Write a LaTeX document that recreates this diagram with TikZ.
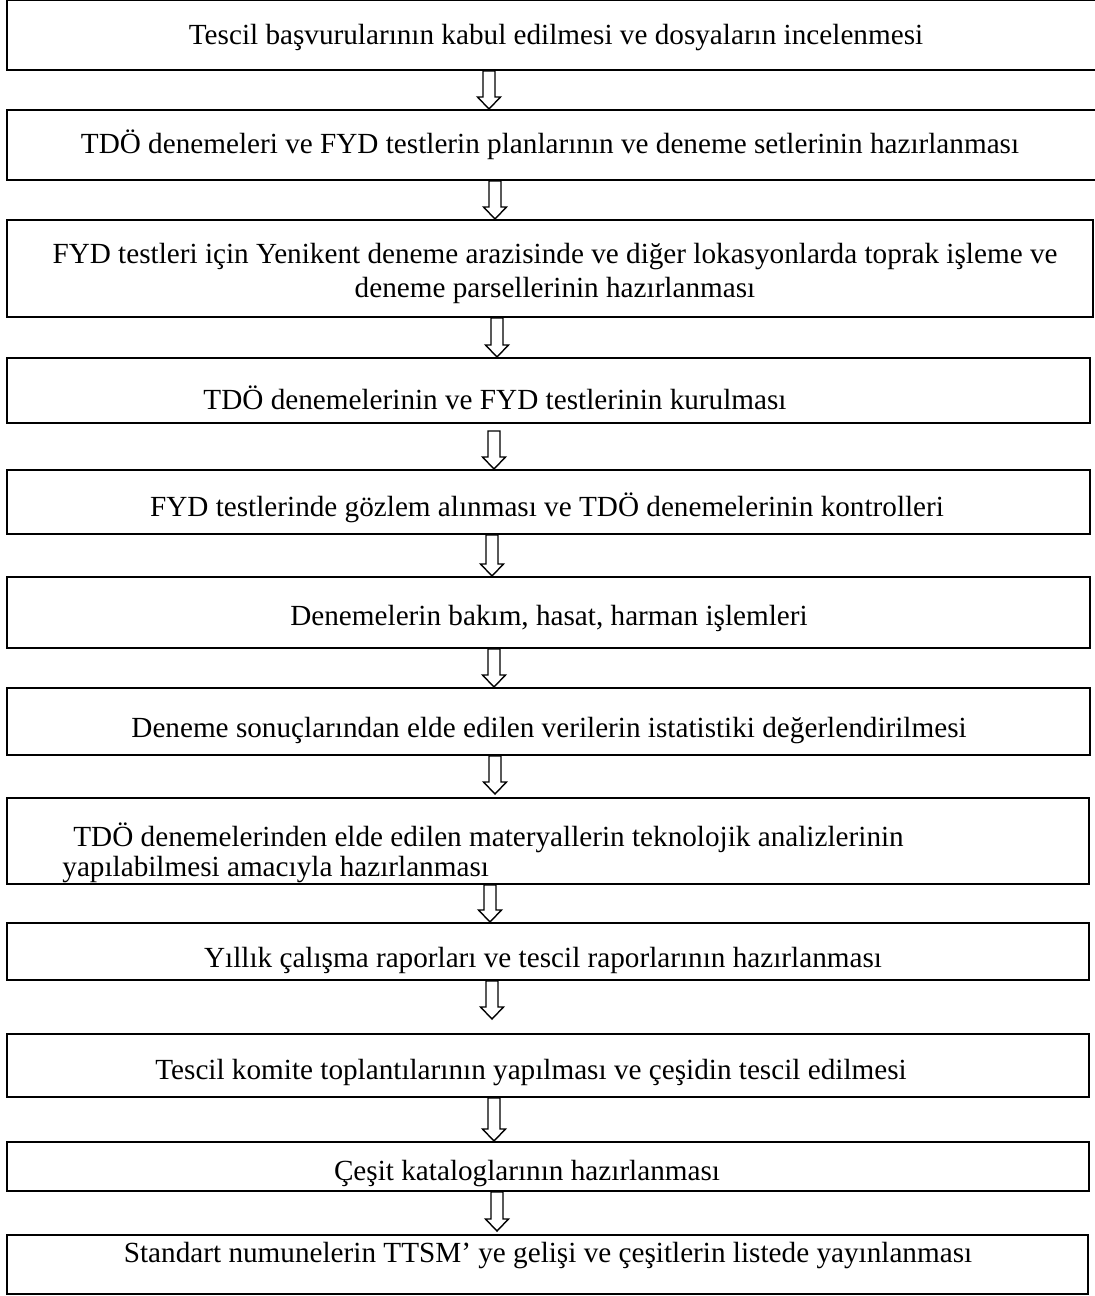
\documentclass[tikz,border=0pt]{standalone}
\usepackage{fontspec}
\setmainfont{Liberation Serif}
\usetikzlibrary{calc,fit}
\newcommand{\blockdown}[2]{\draw[arr] let \p1=(#1), \p2=(#2) in
  (\x1-3pt,\y1) -- (\x1-3pt,\y2+6pt) -- (\x1-5.75pt,\y2+6pt) -- (\x1,\y2)
  -- (\x1+5.75pt,\y2+6pt) -- (\x1+3pt,\y2+6pt) -- (\x1+3pt,\y1) -- cycle;}

\begin{document}
\begin{tikzpicture}[x=0.5pt,y=-0.5pt]
		\tikzstyle{box}=[draw,line width=1pt,inner sep=0pt]
		\tikzstyle{txt}=[inner sep=0pt,yshift=-1.5pt,font=\fontsize{14.6}{16.5}\selectfont]
		\tikzstyle{arr}=[line width=0.7pt,fill=white]
		\useasboundingbox (0,0) rectangle (1095,1296);
		\node[box,fit={(7,0) (1102,70)}] (b1) {};
		\node[box,fit={(7,110) (1102,180)}] (b2) {};
		\node[box,fit={(7,220) (1093,317)}] (b3) {};
		\node[box,fit={(7,358) (1090,423)}] (b4) {};
		\node[box,fit={(7,470) (1090,534)}] (b5) {};
		\node[box,fit={(7,577) (1090,648)}] (b6) {};
		\node[box,fit={(7,688) (1090,755)}] (b7) {};
		\node[box,fit={(7,798) (1089,884)}] (b8) {};
		\node[box,fit={(7,923) (1089,980)}] (b9) {};
		\node[box,fit={(7,1034) (1089,1097)}] (b10) {};
		\node[box,fit={(7,1142) (1089,1191)}] (b11) {};
		\node[box,fit={(7,1235) (1088,1294)}] (b12) {};
		\node[txt] (t1) at (556,35) {Tescil başvurularının kabul edilmesi ve dosyaların incelenmesi};
		\node[txt] (t2) at (550,142) {TDÖ denemeleri ve FYD testlerin planlarının ve deneme setlerinin hazırlanması};
		\node[txt,align=center,font=\fontsize{14.6}{17}\selectfont] (t3) at (555,270) {FYD testleri için Yenikent deneme arazisinde ve diğer lokasyonlarda toprak işleme ve\\deneme parsellerinin hazırlanması};
		\node[txt] (t4) at (495,395) {TDÖ denemelerinin ve FYD testlerinin kurulması};
		\node[txt] (t5) at (547,505) {FYD testlerinde gözlem alınması ve TDÖ denemelerinin kontrolleri};
		\node[txt] (t6) at (549,615) {Denemelerin bakım, hasat, harman işlemleri};
		\node[txt] (t7) at (549,728) {Deneme sonuçlarından elde edilen verilerin istatistiki değerlendirilmesi};
		\node[txt,align=left,anchor=west,font=\fontsize{14.6}{15}\selectfont] (t8) at (62,850) {\hspace*{5.5pt}TDÖ denemelerinden elde edilen materyallerin teknolojik analizlerinin\\yapılabilmesi amacıyla hazırlanması};
		\node[txt] (t9) at (543,957) {Yıllık çalışma raporları ve tescil raporlarının hazırlanması};
		\node[txt] (t10) at (531,1070) {Tescil komite toplantılarının yapılması ve çeşidin tescil edilmesi};
		\node[txt] (t11) at (527,1171) {Çeşit kataloglarının hazırlanması};
		\node[txt] (t12) at (548,1253) {Standart numunelerin TTSM’ ye gelişi ve çeşitlerin listede yayınlanması};
		\coordinate (x1) at (489,0);
		\coordinate (x2) at (495,0);
		\coordinate (x3) at (497,0);
		\coordinate (x4) at (494,0);
		\coordinate (x5) at (492,0);
		\coordinate (x6) at (494,0);
		\coordinate (x7) at (495,0);
		\coordinate (x8) at (490,0);
		\coordinate (x9) at (492,0);
		\coordinate (x10) at (494,0);
		\coordinate (x11) at (497,0);
		\blockdown{b1.south -| x1}{b2.north -| x1}
		\blockdown{b2.south -| x2}{b3.north -| x2}
		\blockdown{b3.south -| x3}{b4.north -| x3}
		\blockdown{$(b4.south -| x4)+(0,7)$}{b5.north -| x4}
		\blockdown{b5.south -| x5}{b6.north -| x5}
		\blockdown{b6.south -| x6}{b7.north -| x6}
		\blockdown{b7.south -| x7}{$(b8.north -| x7)+(0,-3)$}
		\blockdown{b8.south -| x8}{b9.north -| x8}
		\blockdown{b9.south -| x9}{$(b10.north -| x9)+(0,-14)$}
		\blockdown{b10.south -| x10}{b11.north -| x10}
		\blockdown{b11.south -| x11}{$(b12.north -| x11)+(0,-3)$}
\end{tikzpicture}
\end{document}
